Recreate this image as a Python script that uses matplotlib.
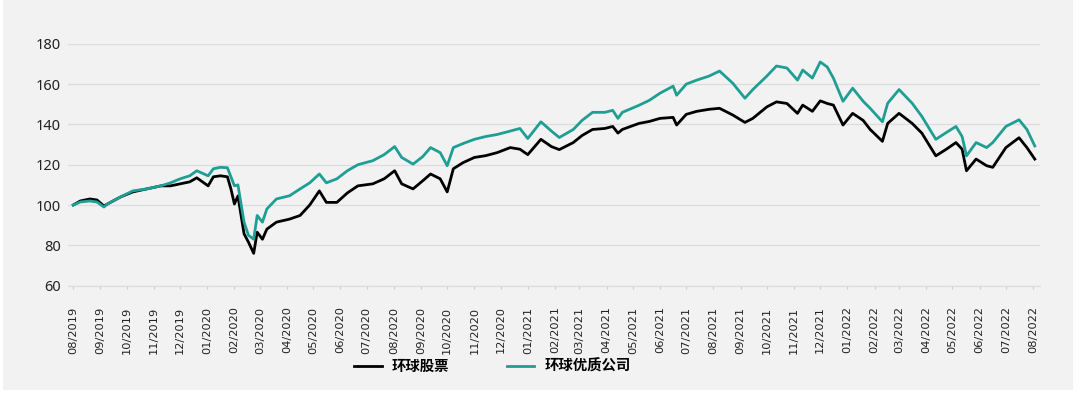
import pandas as pd
import matplotlib.pyplot as plt
from matplotlib.patches import Rectangle

# values (index, start = 100)
dates = ['2019-08-01', '2019-08-09', '2019-08-20', '2019-08-28', '2019-09-05', '2019-09-09',
         '2019-09-24', '2019-10-08', '2019-10-24', '2019-11-09', '2019-11-20', '2019-12-01',
         '2019-12-12', '2019-12-20', '2020-01-02', '2020-01-08', '2020-01-16', '2020-01-24',
         '2020-01-28', '2020-02-01', '2020-02-05', '2020-02-12', '2020-02-17', '2020-02-23',
         '2020-02-27', '2020-03-04', '2020-03-09', '2020-03-20', '2020-04-04', '2020-04-16',
         '2020-04-27', '2020-05-08', '2020-05-16', '2020-05-28', '2020-06-09', '2020-06-21',
         '2020-07-08', '2020-07-21', '2020-08-02', '2020-08-10', '2020-08-23', '2020-09-03',
         '2020-09-12', '2020-09-23', '2020-10-01', '2020-10-08', '2020-10-19', '2020-11-01',
         '2020-11-14', '2020-11-27', '2020-12-12', '2020-12-23', '2021-01-01', '2021-01-16',
         '2021-01-28', '2021-02-06', '2021-02-22', '2021-03-04', '2021-03-16', '2021-03-30',
         '2021-04-08', '2021-04-14', '2021-04-19', '2021-05-08', '2021-05-20', '2021-06-01',
         '2021-06-16', '2021-06-20', '2021-07-01', '2021-07-13', '2021-07-27', '2021-08-08',
         '2021-08-23', '2021-09-06', '2021-09-15', '2021-10-01', '2021-10-12', '2021-10-24',
         '2021-11-05', '2021-11-11', '2021-11-22', '2021-12-01', '2021-12-09', '2021-12-16',
         '2021-12-27', '2022-01-07', '2022-01-19', '2022-01-27', '2022-02-10', '2022-02-16',
         '2022-03-01', '2022-03-16', '2022-03-27', '2022-04-12', '2022-04-24', '2022-05-05',
         '2022-05-12', '2022-05-17', '2022-05-28', '2022-06-09', '2022-06-16', '2022-07-01',
         '2022-07-16', '2022-07-25', '2022-08-03']

quality = [100, 101.5, 102, 101.5, 99, 100.5, 104, 107, 108, 109.5, 111, 113,
           114.5, 117, 114.5, 118, 118.7, 118.5, 114, 109.5, 110, 91.5, 85, 83,
           94.8, 91.5, 98, 103, 104.6, 108, 111, 115.4, 111, 113, 117, 120,
           122, 125, 129, 123.6, 120.3, 124, 128.5, 126, 119.5, 128.5, 130.5, 132.6,
           134, 135, 136.7, 138, 133, 141.3, 136.7, 133.5, 137.5, 142, 146, 146,
           147, 143, 146, 149.5, 152, 155.5, 159, 154.5, 160, 162, 164, 166.5,
           160.5, 153, 157.3, 164, 169, 168, 162, 167, 163, 171, 168.5, 163,
           151.5, 158, 151.5, 148, 141.3, 150.5, 157.3, 150.5, 144, 132.6, 136, 139,
           134, 124.4, 131, 128.5, 131, 139, 142.3, 137.5, 129.3]

equity = [100, 102, 103, 102.5, 99.5, 100.5, 104, 106.5, 108, 109.5, 109.5, 110.5,
          111.5, 113.5, 109.5, 114, 114.5, 114, 108, 100.5, 104.5, 85.7, 81.6, 76,
          86.5, 83, 88, 91.5, 93, 94.8, 100, 107, 101.3, 101.3, 106, 109.5,
          110.5, 113, 117, 110.5, 108, 112, 115.4, 113, 106.5, 118, 121, 123.6,
          124.5, 126, 128.5, 127.7, 125, 132.6, 129, 127.5, 131, 134.5, 137.5, 138,
          139, 135.7, 137.5, 140.5, 141.5, 143, 143.5, 139.7, 145, 146.5, 147.5, 148,
          144.7, 141, 143, 148.7, 151.2, 150.4, 145.5, 149.6, 146.5, 151.7, 150.4, 149.6,
          139.7, 145.5, 142, 137.5, 131.6, 140.5, 145.5, 140.5, 135.7, 124.4, 127.7, 131,
          127.7, 117, 122.8, 119.5, 118.7, 128.5, 133.4, 128.5, 122.8]

labels = ['环球股票', '环球优质公司']
colors = ['#000000', '#1f9e94']

plt.rcParams['font.family'] = ['Noto Sans CJK SC', 'DejaVu Sans']

x = pd.to_datetime(dates)
months = pd.date_range('2019-08-01', '2022-08-01', freq='MS')

fig = plt.figure(figsize=(10.8, 3.95), dpi=100, facecolor='white')
fig.patches.append(Rectangle((3 / 1080, 5 / 395), 1070 / 1080, 390 / 395,
                             transform=fig.transFigure, facecolor='#f2f2f2',
                             edgecolor='none', zorder=-10))
ax = fig.add_axes([0.063, 0.277, 0.900, 0.612])
ax.set_facecolor('#f2f2f2')

ax.plot(x, equity, color=colors[0], lw=2.0, label=labels[0])
ax.plot(x, quality, color=colors[1], lw=2.0, label=labels[1])

ax.set_ylim(60, 180)
ax.set_yticks(range(60, 181, 20))
ax.set_xlim(pd.Timestamp('2019-07-26'), pd.Timestamp('2022-08-09'))
ax.set_xticks(months, [m.strftime('%m/%Y') for m in months],
              rotation=90, fontfamily='DejaVu Sans')

ax.grid(axis='y', color='#dcdcdc', lw=0.9)
ax.set_axisbelow(True)
for s in ['top', 'right', 'left']:
    ax.spines[s].set_visible(False)
ax.spines['bottom'].set_color('#dcdcdc')

ax.tick_params(axis='y', length=0, pad=5, labelsize=10.5, labelcolor='#222222')
ax.tick_params(axis='x', length=2, color='#cccccc', pad=13, labelsize=8.2,
               labelcolor='#222222')
for t in ax.get_yticklabels():
    t.set_family('Noto Sans')

fig.legend(loc='center', bbox_to_anchor=(0.456, 0.072), ncol=2, frameon=False,
           prop={'size': 10.4, 'weight': 'bold'}, handlelength=1.9,
           handletextpad=0.7, columnspacing=4.0)

fig.savefig('out.png', dpi=100, facecolor='white')
